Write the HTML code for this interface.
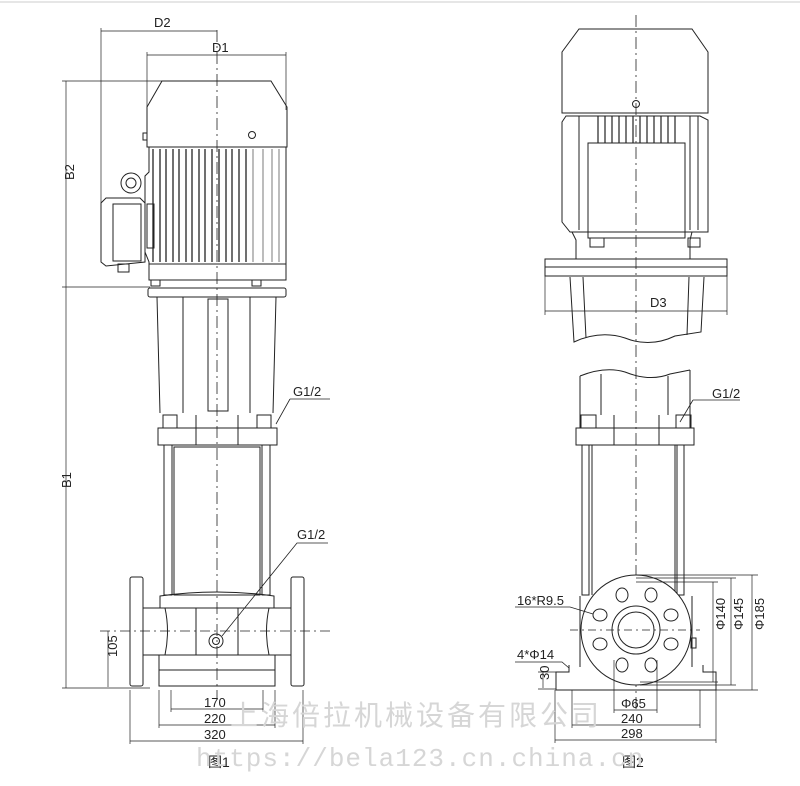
<!DOCTYPE html>
<html><head><meta charset="utf-8"><style>
html,body{margin:0;padding:0;background:#fff}
svg{display:block}
text{font-family:"Liberation Sans","Noto Sans CJK SC",sans-serif;fill:#222}
</style></head><body>
<svg width="800" height="786" viewBox="0 0 800 786" xmlns="http://www.w3.org/2000/svg">
<line x1="0" y1="2" x2="800" y2="2" stroke="#e6e6e6" stroke-width="2"/>
<g stroke="#222" stroke-width="1" fill="none">
<!-- ===== FIG 1 ===== -->
<!-- centerline -->
<line x1="217" y1="30" x2="217" y2="700" stroke-dasharray="12,4,2,4" stroke-width="0.8"/>
<!-- dims top -->
<line x1="101" y1="28" x2="101" y2="262" stroke-width="0.7"/>
<line x1="101" y1="31" x2="217" y2="31" stroke-width="0.7"/>
<line x1="147" y1="52" x2="147" y2="110" stroke-width="0.7"/>
<line x1="286" y1="52" x2="286" y2="110" stroke-width="0.7"/>
<line x1="147" y1="55" x2="286" y2="55" stroke-width="0.7"/>
<!-- B dims -->
<line x1="62" y1="81" x2="270" y2="81" stroke-width="0.7"/>
<line x1="62" y1="287" x2="150" y2="287" stroke-width="0.7"/>
<line x1="62" y1="688" x2="150" y2="688" stroke-width="0.7"/>
<line x1="66" y1="81" x2="66" y2="688" stroke-width="0.7"/>
<!-- motor cap -->
<path d="M162 81 L271 81 L287 107 L287 147 L147 147 L147 107 Z"/>
<circle cx="252" cy="135" r="3.5"/>
<rect x="143" y="133" width="4" height="7"/>
<!-- body -->
<path d="M149 147 L149 172 L145 176 L145 252 L149 262 L149 280 L286 280 L286 147"/>
<g stroke-width="1.3">
<line x1="153" y1="149" x2="153" y2="262"/><line x1="160" y1="149" x2="160" y2="262"/>
<line x1="166" y1="149" x2="166" y2="262"/><line x1="173" y1="149" x2="173" y2="262"/>
<line x1="179" y1="149" x2="179" y2="262"/><line x1="186" y1="149" x2="186" y2="262"/>
<line x1="192" y1="149" x2="192" y2="262"/><line x1="199" y1="149" x2="199" y2="262"/>
<line x1="205" y1="149" x2="205" y2="262"/><line x1="212" y1="149" x2="212" y2="262"/>
<line x1="219" y1="149" x2="219" y2="262"/><line x1="226" y1="149" x2="226" y2="262"/>
<line x1="232" y1="149" x2="232" y2="262"/><line x1="239" y1="149" x2="239" y2="262"/>
<line x1="246" y1="149" x2="246" y2="262"/>
</g>
<line x1="253" y1="149" x2="253" y2="262" stroke-width="0.6"/><line x1="263" y1="149" x2="263" y2="262" stroke-width="0.6"/>
<line x1="272" y1="149" x2="272" y2="262" stroke-width="0.6"/><line x1="279" y1="149" x2="279" y2="262" stroke-width="0.6"/>
<line x1="149" y1="264" x2="286" y2="264"/>
<!-- eye -->
<circle cx="131" cy="183" r="10"/><circle cx="131" cy="183" r="5"/>
<!-- terminal box -->
<path d="M106 198 L140 198 L145 203 L145 262 L106 266 L101 262 L101 203 Z"/>
<rect x="113" y="204" width="28" height="57"/>
<rect x="147" y="204" width="7" height="44"/>
<rect x="118" y="264" width="11" height="8"/>
<!-- flange -->
<rect x="151" y="280" width="9" height="6"/><rect x="252" y="280" width="9" height="6"/>
<rect x="148" y="288" width="138" height="9" rx="2"/>
<!-- lantern -->
<path d="M157 297 L160 413 M276 297 L273 413"/>
<line x1="183" y1="297" x2="183" y2="413"/><line x1="250" y1="297" x2="250" y2="413"/>
<rect x="208" y="299" width="20" height="112"/>
<!-- G1/2 upper -->
<path d="M290 399 L330 399 M290 399 L276 424" stroke-width="0.8"/>
<!-- head -->
<rect x="163" y="415" width="14" height="13"/><rect x="257" y="415" width="14" height="13"/>
<rect x="158" y="428" width="119" height="17"/>
<line x1="196" y1="415" x2="196" y2="445"/><line x1="238" y1="415" x2="238" y2="445"/>
<!-- tie rods / sleeve -->
<rect x="164" y="445" width="8" height="150"/><rect x="262" y="445" width="8" height="150"/>
<rect x="174" y="447" width="86" height="148"/>
<!-- base -->
<path d="M160 596 Q217 588 274 596 L274 608 L160 608 Z"/>
<rect x="130" y="577" width="13" height="109" rx="2"/>
<rect x="291" y="577" width="13" height="109" rx="2"/>
<path d="M143 608 L291 608 M143 655 L291 655"/>
<path d="M165 608 Q170 631 165 655 M269 608 Q264 631 269 655"/>
<rect x="196" y="608" width="42" height="47"/>
<rect x="159" y="655" width="116" height="31"/>
<line x1="159" y1="670" x2="275" y2="670"/>
<line x1="100" y1="631" x2="330" y2="631" stroke-dasharray="10,4,2,4" stroke-width="0.8"/>
<circle cx="216" cy="641" r="7"/><circle cx="216" cy="641" r="3.5"/>
<path d="M222 636 L297 543 L328 543" stroke-width="0.8"/>
<!-- bottom dims -->
<line x1="108" y1="631" x2="108" y2="687" stroke-width="0.7"/>
<line x1="171" y1="690" x2="171" y2="712" stroke-width="0.7"/><line x1="263" y1="690" x2="263" y2="712" stroke-width="0.7"/>
<line x1="171" y1="709" x2="263" y2="709" stroke-width="0.7"/>
<line x1="159" y1="690" x2="159" y2="728" stroke-width="0.7"/><line x1="275" y1="690" x2="275" y2="728" stroke-width="0.7"/>
<line x1="159" y1="725" x2="275" y2="725" stroke-width="0.7"/>
<line x1="130" y1="690" x2="130" y2="744" stroke-width="0.7"/><line x1="303" y1="690" x2="303" y2="744" stroke-width="0.7"/>
<line x1="130" y1="741" x2="303" y2="741" stroke-width="0.7"/>

<!-- ===== FIG 2 ===== -->
<line x1="636" y1="15" x2="636" y2="710" stroke-dasharray="12,4,2,4" stroke-width="0.8"/>
<path d="M579 29 L692 29 L708 52 L708 113 L562 113 L562 52 Z"/>
<circle cx="636" cy="104" r="3.5"/>
<path d="M566 116 L562 122 L562 222 L570 232 L708 232 L708 120 L700 116 Z"/>
<g stroke-width="1.2">
<line x1="598" y1="116" x2="598" y2="143"/><line x1="605" y1="116" x2="605" y2="143"/>
<line x1="612" y1="116" x2="612" y2="143"/><line x1="619" y1="116" x2="619" y2="143"/>
<line x1="626" y1="116" x2="626" y2="143"/><line x1="633" y1="116" x2="633" y2="143"/>
<line x1="640" y1="116" x2="640" y2="143"/><line x1="647" y1="116" x2="647" y2="143"/>
<line x1="654" y1="116" x2="654" y2="143"/><line x1="661" y1="116" x2="661" y2="143"/>
<line x1="668" y1="116" x2="668" y2="143"/><line x1="675" y1="116" x2="675" y2="143"/>
</g>
<line x1="579" y1="116" x2="579" y2="230"/><line x1="690" y1="116" x2="690" y2="230"/><line x1="698" y1="116" x2="698" y2="230"/>
<rect x="588" y="143" width="97" height="95"/>
<path d="M572 232 L576 240 L576 259 M692 232 L690 240 L690 259"/>
<rect x="590" y="238" width="14" height="9"/><rect x="688" y="238" width="12" height="9"/>
<rect x="545" y="259" width="182" height="17"/>
<line x1="545" y1="267" x2="727" y2="267"/>
<path d="M570 277 L574 342 Q600 330 625 338 Q650 348 675 336 L701 332 L704 277 M583 277 L586 338 M689 277 L687 335"/>
<line x1="545" y1="311" x2="727" y2="311" stroke-width="0.7"/>
<line x1="545" y1="276" x2="545" y2="315" stroke-width="0.7"/><line x1="727" y1="276" x2="727" y2="315" stroke-width="0.7"/>
<path d="M580 376 Q605 366 625 372 Q650 382 670 374 L690 370 M580 376 L580 428 M690 370 L690 428 M601 374 L601 415 M668 376 L668 415"/>
<path d="M693 400 L740 400 M693 400 L680 422" stroke-width="0.8"/>
<rect x="581" y="415" width="15" height="13"/><rect x="676" y="415" width="15" height="13"/>
<rect x="576" y="428" width="118" height="17"/>
<line x1="614" y1="415" x2="614" y2="445"/><line x1="659" y1="415" x2="659" y2="445"/>
<rect x="582" y="445" width="7" height="150"/><rect x="677" y="445" width="7" height="150"/>
<line x1="592" y1="445" x2="592" y2="595"/><line x1="675" y1="445" x2="675" y2="595"/>
<!-- base fig2 -->
<path d="M569 665 L569 672 L556 672 L556 690 L716 690 L716 672 L703 672 L703 665"/>
<path d="M580 596 L580 667 M692 596 L692 667"/>
<!-- flange -->
<circle cx="636" cy="630" r="55" fill="#fff"/>
<circle cx="636" cy="630" r="24"/><circle cx="636" cy="630" r="18"/>
<g>
<ellipse cx="622" cy="595" rx="6" ry="7"/><ellipse cx="651" cy="595" rx="6" ry="7"/>
<ellipse cx="671" cy="615" rx="7" ry="6"/><ellipse cx="671" cy="644" rx="7" ry="6"/>
<ellipse cx="651" cy="665" rx="6" ry="7"/><ellipse cx="622" cy="665" rx="6" ry="7"/>
<ellipse cx="600" cy="644" rx="7" ry="6"/><ellipse cx="600" cy="615" rx="7" ry="6"/>
</g>
<line x1="570" y1="630" x2="700" y2="630" stroke-dasharray="8,4,2,4" stroke-width="0.8"/>
<rect x="691" y="638" width="5" height="10"/>
<!-- leaders -->
<path d="M515 607 L570 607 L593 614" stroke-width="0.8"/>
<path d="M515 662 L562 662 L569 668" stroke-width="0.8"/>
<!-- right dims -->
<line x1="636" y1="575" x2="758" y2="575" stroke-width="0.7"/>
<line x1="636" y1="578" x2="736" y2="578" stroke-width="0.7"/>
<line x1="636" y1="582" x2="718" y2="582" stroke-width="0.7"/>
<line x1="640" y1="682" x2="718" y2="682" stroke-width="0.7"/>
<line x1="640" y1="685" x2="736" y2="685" stroke-width="0.7"/>
<line x1="690" y1="690" x2="758" y2="690" stroke-width="0.7"/>
<line x1="713" y1="582" x2="713" y2="682" stroke-width="0.7"/>
<line x1="731" y1="578" x2="731" y2="685" stroke-width="0.7"/>
<line x1="752" y1="575" x2="752" y2="690" stroke-width="0.7"/>
<line x1="543" y1="672" x2="543" y2="688" stroke-width="0.7"/>
<line x1="538" y1="672" x2="556" y2="672" stroke-width="0.7"/><line x1="538" y1="689" x2="556" y2="689" stroke-width="0.7"/>
<line x1="614" y1="660" x2="614" y2="713" stroke-width="0.7"/><line x1="657" y1="660" x2="657" y2="713" stroke-width="0.7"/>
<line x1="614" y1="710" x2="657" y2="710" stroke-width="0.7"/>
<line x1="572" y1="690" x2="572" y2="728" stroke-width="0.7"/><line x1="700" y1="690" x2="700" y2="728" stroke-width="0.7"/>
<line x1="572" y1="725" x2="700" y2="725" stroke-width="0.7"/>
<line x1="555" y1="690" x2="555" y2="743" stroke-width="0.7"/><line x1="716" y1="690" x2="716" y2="743" stroke-width="0.7"/>
<line x1="555" y1="740" x2="716" y2="740" stroke-width="0.7"/>
</g>
<!-- texts -->
<g font-size="13">
<text x="154" y="27">D2</text>
<text x="212" y="52">D1</text>
<text x="64" y="190" transform="rotate(-90 64 180)">B2</text>
<text x="64" y="495" transform="rotate(-90 64 488)">B1</text>
<text x="106" y="668" transform="rotate(-90 106 657)">105</text>
<text x="293" y="396">G1/2</text>
<text x="297" y="539">G1/2</text>
<text x="204" y="707">170</text>
<text x="204" y="723">220</text>
<text x="204" y="739">320</text>
<text x="208" y="767" font-size="14">图1</text>
<text x="650" y="307">D3</text>
<text x="712" y="398">G1/2</text>
<text x="517" y="605">16*R9.5</text>
<text x="517" y="659">4*Φ14</text>
<text x="541" y="688" transform="rotate(-90 541 680)">30</text>
<text x="621" y="708">Φ65</text>
<text x="621" y="723">240</text>
<text x="621" y="738">298</text>
<text x="711" y="644" transform="rotate(-90 711 630)">Φ140</text>
<text x="729" y="644" transform="rotate(-90 729 630)">Φ145</text>
<text x="750" y="644" transform="rotate(-90 750 630)">Φ185</text>
<text x="622" y="767" font-size="14">图2</text>
</g>
<text x="230" y="725" font-size="28" style="fill:#d6d6d6;font-family:'Noto Sans CJK SC',sans-serif" letter-spacing="3">上海倍拉机械设备有限公司</text>
<text x="196" y="766" font-size="26" style="fill:#d6d6d6;font-family:'Liberation Mono',monospace" letter-spacing="1">https://bela123.cn.china.cn</text>
</svg>
</body></html>
